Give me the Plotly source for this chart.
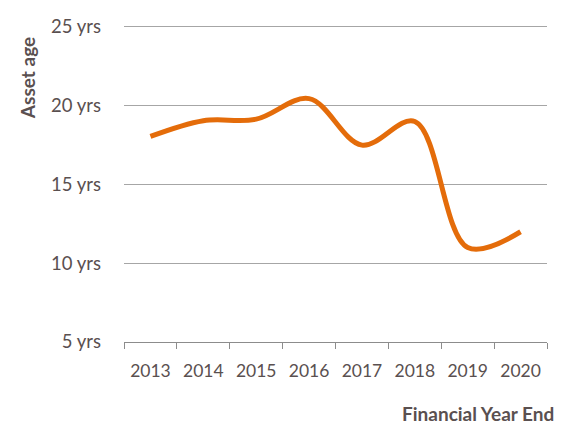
import plotly.graph_objects as go

years = ["2013", "2014", "2015", "2016", "2017", "2018", "2019", "2020"]
asset_age = [18.05, 19.05, 19.15, 20.45, 17.5, 19.0, 11.0, 12.0]
y_ticks = [5, 10, 15, 20, 25]
y_tick_labels = ["5 yrs", "10 yrs", "15 yrs", "20 yrs", "25 yrs"]

text_color = "#5a5050"
font_family = "Lato, 'Open Sans', sans-serif"

fig = go.Figure()
fig.add_trace(go.Scatter(
    x=years, y=asset_age, mode="lines",
    line=dict(color="#E46C0A", width=5, shape="spline", smoothing=1.0),
    hoverinfo="x+y",
))

# The page body has an 8px default margin, so the figure is sized to fit.
fig.update_layout(
    width=557, height=420,
    margin=dict(l=116, r=18, t=14, b=86, autoexpand=False),
    paper_bgcolor="white", plot_bgcolor="white",
    showlegend=False,
    font=dict(family=font_family, size=15, color=text_color),
    xaxis=dict(
        type="category",
        showgrid=False,
        showline=True, linecolor="#8c8c8c", linewidth=1.3,
        ticks="outside", tickson="boundaries", ticklen=6, tickcolor="#8c8c8c",
        tickfont=dict(size=17.5, color=text_color),
        ticklabelstandoff=13,
        range=[-0.5, 7.5],
        zeroline=False,
    ),
    yaxis=dict(
        range=[5, 25.317],
        tickvals=y_ticks, ticktext=y_tick_labels,
        showgrid=True, gridcolor="#a6a6a6", gridwidth=1,
        showline=False, zeroline=False,
        ticks="", ticklabelstandoff=22,
        tickfont=dict(size=18.5, color=text_color),
    ),
    annotations=[
        dict(text="<b>Asset age</b>", xref="paper", yref="paper",
             x=-0.229, y=0.825, xanchor="center", yanchor="middle",
             textangle=-90, showarrow=False,
             font=dict(size=19, color=text_color, family=font_family)),
        dict(text="<b>Financial Year End</b>", xref="paper", yref="paper",
             x=1.018, y=-0.264, xanchor="right", yanchor="bottom",
             showarrow=False, borderpad=0,
             font=dict(size=19, color=text_color, family=font_family)),
    ],
)

fig.write_html("out.html")
